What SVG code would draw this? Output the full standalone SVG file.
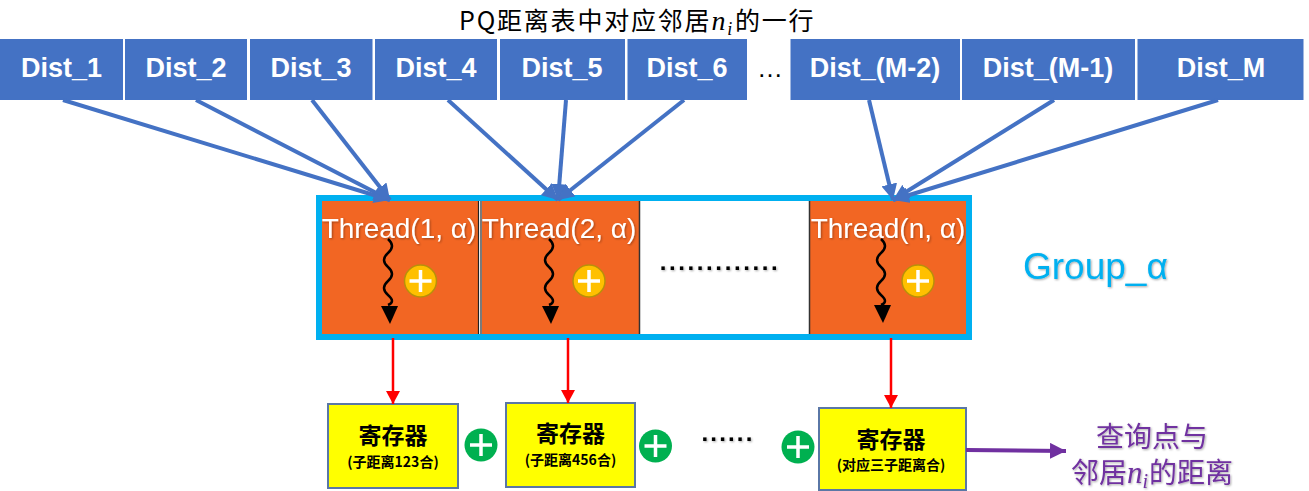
<svg xmlns="http://www.w3.org/2000/svg" width="1309" height="491" viewBox="0 0 1309 491">
<style>
.dist{fill:#4472C4}
.dt{font-family:"Liberation Sans",Arial,sans-serif;font-weight:bold;font-size:27px;fill:#fff;text-anchor:middle}
.cell{fill:#F26623}
.th{font-family:"Liberation Sans",Arial,sans-serif;font-size:28px;fill:#fff;text-anchor:middle}
.blue{stroke:#4472C4;stroke-width:4;fill:none;marker-end:url(#ab)}
.red{stroke:#FF0000;stroke-width:2.5;fill:none;marker-end:url(#ar)}
.wave{stroke:#000;stroke-width:2.5;fill:none}
.reg{fill:#FFFF00;stroke:#5A77A6;stroke-width:2}
.rt{font-family:"Noto Sans CJK SC","Liberation Sans",sans-serif;font-weight:bold;fill:#000;text-anchor:middle}
.cjk{font-family:"Noto Sans CJK SC",sans-serif}
.mi{font-family:"Liberation Serif",serif;font-style:italic}
.plus{stroke:#fff;stroke-width:3.5;stroke-linecap:butt}
</style>
<defs>
<marker id="ab" markerUnits="userSpaceOnUse" markerWidth="18" markerHeight="16" refX="16" refY="8" orient="auto"><path d="M0,0 L16,8 L0,16 Z" fill="#4472C4"/></marker>
<marker id="ar" markerUnits="userSpaceOnUse" markerWidth="14" markerHeight="14" refX="13" refY="7" orient="auto"><path d="M0,0 L13,7 L0,14 Z" fill="#FF0000"/></marker>
<marker id="ap" markerUnits="userSpaceOnUse" markerWidth="18" markerHeight="16" refX="16" refY="8" orient="auto"><path d="M0,0 L16,8 L0,16 Z" fill="#7030A0"/></marker>
<filter id="sh" x="-10%" y="-20%" width="120%" height="140%"><feDropShadow dx="1" dy="1" stdDeviation="0.8" flood-color="#000" flood-opacity="0.35"/></filter>
</defs>
<rect width="1309" height="491" fill="#fff"/>

<text id="title" x="459" y="30" font-size="25" letter-spacing="1.8" fill="#000" class="cjk">PQ距离表中对应邻居<tspan class="mi" font-size="28">n</tspan><tspan class="mi" font-size="18" dy="5">i</tspan><tspan dy="-5" dx="1">的一行</tspan></text>

<g id="dist1"><rect class="dist" x="0" y="39" width="123" height="61"/><text class="dt" x="61.5" y="77">Dist_1</text></g>
<g id="dist2"><rect class="dist" x="125" y="39" width="122" height="61"/><text class="dt" x="186" y="77">Dist_2</text></g>
<g id="dist3"><rect class="dist" x="250" y="39" width="122.5" height="61"/><text class="dt" x="311" y="77">Dist_3</text></g>
<g id="dist4"><rect class="dist" x="375" y="39" width="122" height="61"/><text class="dt" x="436" y="77">Dist_4</text></g>
<g id="dist5"><rect class="dist" x="500" y="39" width="125" height="61"/><text class="dt" x="562" y="77">Dist_5</text></g>
<g id="dist6"><rect class="dist" x="627.5" y="39" width="119.5" height="61"/><text class="dt" x="687" y="77">Dist_6</text></g>
<text id="dist-ellipsis" x="770" y="77" font-family="Liberation Sans,sans-serif" font-size="26" text-anchor="middle" fill="#000">…</text>
<g id="distM2"><rect class="dist" x="790.5" y="39" width="169.5" height="61"/><text class="dt" x="875" y="77">Dist_(M-2)</text></g>
<g id="distM1"><rect class="dist" x="962" y="39" width="173" height="61"/><text class="dt" x="1048" y="77">Dist_(M-1)</text></g>
<g id="distM"><rect class="dist" x="1137.5" y="39" width="166" height="61"/><text class="dt" x="1221" y="77">Dist_M</text></g>

<g id="group">
<rect class="cell" x="322" y="201" width="156" height="133"/>
<rect class="cell" x="482" y="201" width="157" height="133"/>
<rect fill="#fff" x="640" y="201" width="169" height="133"/>
<rect class="cell" x="810" y="201" width="156" height="133"/>
<line x1="478.5" y1="201" x2="478.5" y2="334" stroke="#222" stroke-width="1.2"/>
<line x1="481" y1="201" x2="481" y2="334" stroke="#222" stroke-width="1.2"/>
<line x1="639.5" y1="201" x2="639.5" y2="334" stroke="#333" stroke-width="1.5"/>
<line x1="809.5" y1="201" x2="809.5" y2="334" stroke="#333" stroke-width="1.5"/>
</g>

<g id="thread1">
<text class="th" x="399" y="238" filter="url(#sh)">Thread(1, α)</text>
<path class="wave" d="M388,239 q8,7 0,14 t0,14 t0,14 t0,14 t0,10"/>
<path d="M381,306 L398,306 L390,324 Z" fill="#000"/>
<circle cx="420.5" cy="281" r="16" fill="#FFC000" stroke="#B8900A" stroke-width="1.5"/>
<path class="plus" d="M409.5,281 H431.5 M420.5,270 V292"/>
</g>
<g id="thread2">
<text class="th" x="559" y="238" filter="url(#sh)">Thread(2, α)</text>
<path class="wave" d="M549,239 q8,7 0,14 t0,14 t0,14 t0,14 t0,10"/>
<path d="M542,306 L559,306 L551,324 Z" fill="#000"/>
<circle cx="589" cy="281" r="16" fill="#FFC000" stroke="#B8900A" stroke-width="1.5"/>
<path class="plus" d="M578,281 H600 M589,270 V292"/>
</g>
<g id="thread-dots">
<text x="720" y="270" font-family="Liberation Sans,sans-serif" font-size="24" font-weight="bold" letter-spacing="2.6" text-anchor="middle" fill="#000" filter="url(#sh)">.............</text>
</g>
<g id="threadn">
<text class="th" x="888" y="238" filter="url(#sh)">Thread(n, α)</text>
<path class="wave" d="M881,239 q8,7 0,14 t0,14 t0,14 t0,14 t0,10"/>
<path d="M874,305 L891,305 L883,323 Z" fill="#000"/>
<circle cx="918" cy="281" r="16" fill="#FFC000" stroke="#B8900A" stroke-width="1.5"/>
<path class="plus" d="M907,281 H929 M918,270 V292"/>
</g>
<rect id="group-border" x="319" y="198" width="650" height="139" fill="none" stroke="#00B0F0" stroke-width="6"/>

<text id="group-label" x="1023" y="279" font-family="Liberation Sans,sans-serif" font-size="37" fill="#00B0F0" filter="url(#sh)">Group_α</text>

<g id="reg1"><rect class="reg" x="328" y="404" width="130" height="84"/><text class="rt" x="393" y="444" font-size="23">寄存器</text><text class="rt" x="393" y="467" font-size="14">(子距离123合)</text></g>
<g id="reg2"><rect class="reg" x="506" y="403" width="129" height="84"/><text class="rt" x="570.5" y="442" font-size="23">寄存器</text><text class="rt" x="570.5" y="465" font-size="14">(子距离456合)</text></g>
<g id="reg3"><rect class="reg" x="819" y="408" width="147" height="82"/><text class="rt" x="891" y="448" font-size="23">寄存器</text><text class="rt" x="891" y="470" font-size="14">(对应三子距离合)</text></g>

<g id="plus1"><circle cx="481" cy="445" r="16.5" fill="#00B050"/><path class="plus" d="M470,445 H492 M481,434 V456"/></g>
<g id="plus2"><circle cx="655.5" cy="446" r="16.5" fill="#00B050"/><path class="plus" d="M644.5,446 H666.5 M655.5,435 V457"/></g>
<text id="reg-dots" x="728" y="441" font-family="Liberation Sans,sans-serif" font-size="24" font-weight="bold" letter-spacing="2.2" text-anchor="middle" fill="#000" filter="url(#sh)">......</text>
<g id="plus3"><circle cx="798" cy="447" r="16.5" fill="#00B050"/><path class="plus" d="M787,447 H809 M798,436 V458"/></g>

<g id="result" fill="#7030A0" font-size="28" text-anchor="middle" class="cjk" filter="url(#sh)">
<text x="1152" y="447">查询点与</text>
<text x="1152" y="483">邻居<tspan class="mi" font-size="31">n</tspan><tspan class="mi" font-size="20" dy="5">i</tspan><tspan dy="-5" dx="1">的距离</tspan></text>
</g>

<g id="connectors">
<line class="blue" x1="63" y1="100" x2="390" y2="200"/>
<line class="blue" x1="196" y1="100" x2="390" y2="200"/>
<line class="blue" x1="312" y1="100" x2="390" y2="200"/>
<line class="blue" x1="448" y1="100" x2="558" y2="200"/>
<line class="blue" x1="566" y1="100" x2="558" y2="200"/>
<line class="blue" x1="684" y1="100" x2="558" y2="200"/>
<line class="blue" x1="869" y1="100" x2="893" y2="200"/>
<line class="blue" x1="1054" y1="100" x2="893" y2="200"/>
<line class="blue" x1="1218" y1="100" x2="893" y2="200"/>
<line class="red" x1="393" y1="338" x2="393" y2="404"/>
<line class="red" x1="568" y1="338" x2="568" y2="403"/>
<line class="red" x1="891" y1="338" x2="891" y2="408"/>
<line x1="966" y1="450" x2="1066" y2="451" stroke="#7030A0" stroke-width="4" marker-end="url(#ap)"/>
</g>
</svg>
